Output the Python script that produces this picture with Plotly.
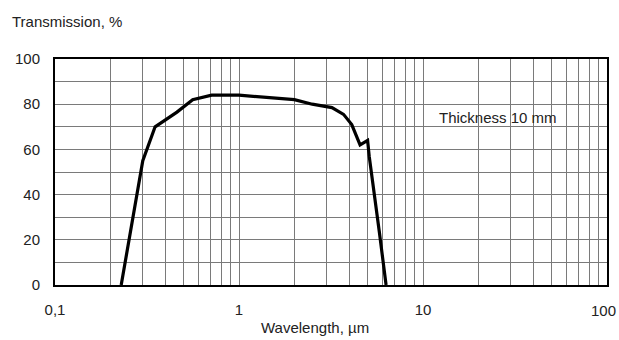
import math
import plotly.graph_objects as go

wavelength = [0.229, 0.30, 0.35, 0.46, 0.56, 0.71, 1.0, 2.0, 2.5, 3.2, 3.7, 4.1, 4.55, 5.0, 5.1, 5.35, 5.8, 6.3]
transmission = [0, 55, 70, 76.5, 82, 84, 84, 82, 80, 78.5, 75.5, 71, 62, 64, 57, 45, 23, 0]

x_major = [0.1, 1, 10, 100]
x_major_labels = ["0,1", "1", "10", "100"]
y_ticks = [0, 20, 40, 60, 80, 100]

# all 1..9 gridlines per decade; last decade label drawn separately so it is not clipped
x_grid = []
x_grid_labels = []
for dec in [0.1, 1, 10]:
    for m in range(1, 10):
        v = round(dec * m, 6)
        x_grid.append(v)
        x_grid_labels.append(x_major_labels[x_major.index(v)] if v in x_major else "")
x_grid.append(x_major[-1])
x_grid_labels.append("")

FONT = "Liberation Sans, Arial, sans-serif"
GRID = "#7a7a7a"
FS = 15

fig = go.Figure()
fig.add_trace(go.Scatter(x=wavelength, y=transmission, mode="lines",
                         line=dict(color="black", width=3.2), showlegend=False,
                         hoverinfo="skip"))

fig.update_layout(
    width=619, height=340,
    margin=dict(l=55, r=12, t=59, b=55),
    paper_bgcolor="white", plot_bgcolor="white",
    font=dict(family=FONT, size=FS, color="#222"),
    xaxis=dict(type="log", range=[-1, 2], tickvals=x_grid, ticktext=x_grid_labels,
               showgrid=True, gridcolor=GRID, gridwidth=1, automargin=False,
               showline=True, linecolor="black", linewidth=2, mirror=True,
               ticks="", ticklabelstandoff=10, zeroline=False),
    yaxis=dict(range=[0, 100], tickvals=y_ticks, automargin=False,
               showgrid=True, gridcolor=GRID, gridwidth=1,
               minor=dict(dtick=10, showgrid=True, gridcolor=GRID, gridwidth=1, ticks=""),
               showline=True, linecolor="black", linewidth=2, mirror=True,
               ticks="", ticklabelstandoff=10, zeroline=False),
    annotations=[
        dict(text="Transmission, %", xref="paper", yref="paper", x=-0.0815, y=1.165,
             xanchor="left", yanchor="middle", showarrow=False, font=dict(size=FS)),
        dict(text="Wavelength, µm", xref="paper", yref="paper", x=0.471, y=-0.19,
             xanchor="center", yanchor="middle", showarrow=False, font=dict(size=FS)),
        # log axis: annotation x is given in log10 units
        dict(text="Thickness 10 mm", xref="x", yref="y", x=math.log10(25.6), y=74.3,
             xanchor="center", yanchor="middle", showarrow=False, font=dict(size=FS)),
        dict(text=x_major_labels[-1], xref="paper", yref="paper", x=1.02, y=-0.111,
             xanchor="right", yanchor="middle", showarrow=False, font=dict(size=FS)),
    ],
)
fig.write_html("out.html", config={"displayModeBar": False},
               post_script="document.body.style.margin='0';document.body.style.overflow='hidden';")
